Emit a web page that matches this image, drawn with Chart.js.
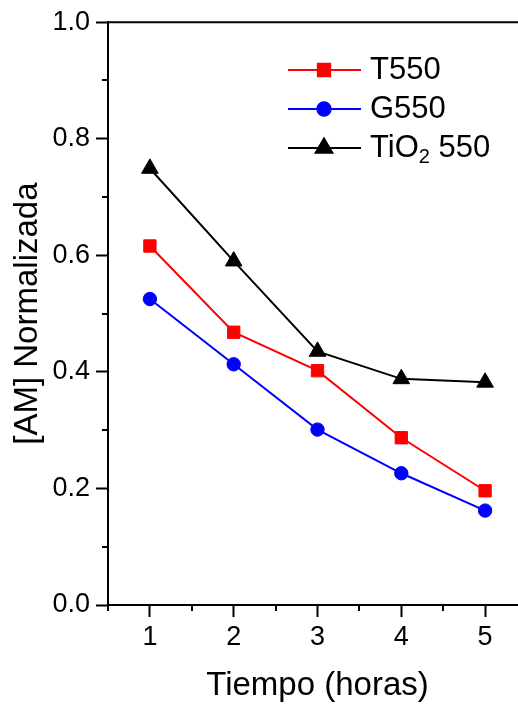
<!DOCTYPE html>
<html><head><meta charset="utf-8">
<script src="https://cdn.jsdelivr.net/npm/chart.js@4"></script>
<style>html,body{margin:0;padding:0;overflow:hidden;background:#fff}#wrap{width:540px;height:706px;position:relative}</style>
</head><body><div id="wrap"><canvas id="c" width="540" height="706"></canvas></div>
<script>
const hours = [1, 2, 3, 4, 5];
const t550 = [0.616, 0.468, 0.402, 0.287, 0.196];
const g550 = [0.525, 0.413, 0.301, 0.226, 0.162];
const tio2 = [0.749, 0.590, 0.435, 0.388, 0.382];
const seriesNames = ['T550', 'G550', 'TiO_2 550'];
const yTicks = [0, 0.2, 0.4, 0.6, 0.8, 1.0];
const yMinor = [0.1, 0.3, 0.5, 0.7, 0.9];
const xTicks = [1, 2, 3, 4, 5];
const xMinor = [0.5, 1.5, 2.5, 3.5, 4.5, 5.5];

const FONT = "'Liberation Sans', Arial, sans-serif";
const pts = arr => hours.map((h, i) => ({x: h, y: arr[i]}));

const axisExtras = {
  id: 'axisExtras',
  afterDraw(chart) {
    const ctx = chart.ctx, a = chart.chartArea;
    const xs = chart.scales.x, ys = chart.scales.y;
    ctx.save();
    ctx.strokeStyle = '#000';
    ctx.lineWidth = 2;
    ctx.beginPath();
    ctx.moveTo(a.left - 1, a.top); ctx.lineTo(a.right, a.top);
    ctx.moveTo(a.right, a.top); ctx.lineTo(a.right, a.bottom);
    yMinor.forEach(v => { const p = Math.round(ys.getPixelForValue(v)); ctx.moveTo(a.left, p); ctx.lineTo(a.left - 6, p); });
    xMinor.forEach(v => { const p = Math.round(xs.getPixelForValue(v)); ctx.moveTo(p, a.bottom); ctx.lineTo(p, a.bottom + 6); });
    ctx.stroke();
    ctx.restore();
  }
};

const legendPlugin = {
  id: 'customLegend',
  afterDraw(chart) {
    const ctx = chart.ctx;
    chart.data.datasets.forEach((ds, i) => {
      const y = 70 + i * 39;
      ctx.save();
      ctx.strokeStyle = ds.borderColor; ctx.lineWidth = 2;
      ctx.beginPath(); ctx.moveTo(288, y); ctx.lineTo(361, y); ctx.stroke();
      ctx.fillStyle = ds.pointBackgroundColor; ctx.strokeStyle = ds.pointBackgroundColor;
      Chart.helpers.drawPoint(ctx, {pointStyle: ds.pointStyle, radius: ds.pointRadius, rotation: 0, borderWidth: 1}, 324, y);
      ctx.fillStyle = '#000';
      ctx.textBaseline = 'middle'; ctx.textAlign = 'left';
      ctx.font = '31px ' + FONT;
      let x = 370;
      const parts = ds.label.split('_');
      ctx.fillText(parts[0], x, y);
      x += ctx.measureText(parts[0]).width;
      if (parts.length > 1) {
        const sub = parts[1].charAt(0), rest = parts[1].slice(1);
        ctx.font = '20px ' + FONT;
        ctx.fillText(sub, x, y + 9);
        x += ctx.measureText(sub).width;
        ctx.font = '31px ' + FONT;
        ctx.fillText(rest, x, y);
      }
      ctx.restore();
    });
  }
};

new Chart(document.getElementById('c'), {
  type: 'line',
  data: {
    datasets: [
      {label: seriesNames[0], data: pts(t550), borderColor: '#ff0000', backgroundColor: '#ff0000', pointBackgroundColor: '#ff0000', pointBorderColor: '#ff0000', pointStyle: 'rect', pointRadius: 8.7, borderWidth: 2, pointBorderWidth: 1},
      {label: seriesNames[1], data: pts(g550), borderColor: '#0000ff', backgroundColor: '#0000ff', pointBackgroundColor: '#0000ff', pointBorderColor: '#0000ff', pointStyle: 'circle', pointRadius: 6.7, borderWidth: 2, pointBorderWidth: 1},
      {label: seriesNames[2], data: pts(tio2), borderColor: '#000000', backgroundColor: '#000000', pointBackgroundColor: '#000000', pointBorderColor: '#000000', pointStyle: 'triangle', pointRadius: 9.6, borderWidth: 2, pointBorderWidth: 1}
    ]
  },
  options: {
    responsive: false, animation: false, devicePixelRatio: 1,
    layout: {padding: {top: 19, right: 13, left: 0, bottom: 0}},
    plugins: {legend: {display: false}, tooltip: {enabled: false}},
    elements: {line: {tension: 0}},
    scales: {
      x: {
        type: 'linear', min: 0.5, max: 5.5,
        afterBuildTicks: s => { s.ticks = xTicks.map(v => ({value: v})); },
        afterFit: s => { s.height = 101; },
        grid: {drawOnChartArea: false, drawTicks: true, tickLength: 12, tickWidth: 2, tickColor: '#000'},
        border: {display: true, color: '#000', width: 2},
        ticks: {color: '#000', font: {family: FONT, size: 27}, padding: 4, maxRotation: 0, autoSkip: false, callback: v => String(v)},
        title: {display: true, text: 'Tiempo (horas)', color: '#000', font: {family: FONT, size: 33}, padding: {top: 3, bottom: 0}}
      },
      y: {
        min: 0, max: 1,
        afterBuildTicks: s => { s.ticks = yTicks.map(v => ({value: v})); },
        afterFit: s => { s.width = 108; },
        grid: {drawOnChartArea: false, drawTicks: true, tickLength: 12, tickWidth: 2, tickColor: '#000'},
        border: {display: true, color: '#000', width: 2},
        ticks: {color: '#000', font: {family: FONT, size: 27}, padding: 6, autoSkip: false, callback: v => Number(v).toFixed(1)},
        title: {display: true, text: '[AM] Normalizada', color: '#000', font: {family: FONT, size: 33}, padding: {top: 8, bottom: 0}}
      }
    }
  },
  plugins: [axisExtras, legendPlugin]
});
</script>
</body></html>
